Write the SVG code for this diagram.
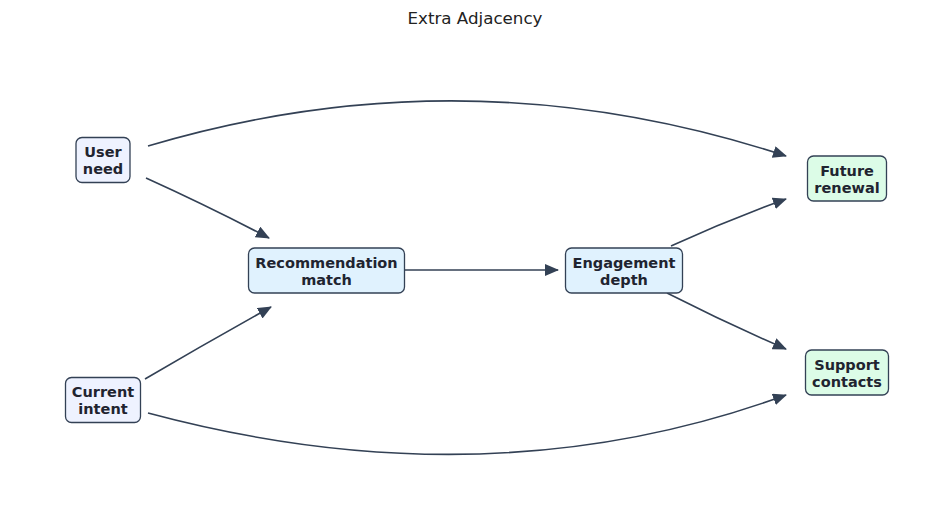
<svg xmlns="http://www.w3.org/2000/svg" width="950" height="521" viewBox="0 0 950 521">
<style>
.bg{fill:#ffffff}
.title{font-family:"DejaVu Sans",sans-serif;font-size:16.7px;fill:#222222;text-anchor:middle}
.box{stroke:#334155;stroke-width:1.3}
.src{fill:#eef2ff}
.mid{fill:#e0f2fe}
.out{fill:#dcfce7}
.lbl{font-family:"DejaVu Sans",sans-serif;font-size:14.5px;font-weight:bold;fill:#1f2430;text-anchor:middle}
.edge{fill:none;stroke:#334155;stroke-width:1.6}
</style>
<defs>
<marker id="ah" markerUnits="userSpaceOnUse" markerWidth="16" markerHeight="13" refX="13" refY="6" orient="auto">
<path d="M0,0 L14,6 L0,12 z" fill="#334155"/>
</marker>
</defs>
<rect class="bg" x="0" y="0" width="950" height="521"/>
<text class="title" x="475" y="24">Extra Adjacency</text>
<g id="connectors">
<path class="edge" marker-end="url(#ah)" d="M148,146 Q467,51 786,156"/>
<path class="edge" marker-end="url(#ah)" d="M146,178 Q210,207 269,238"/>
<path class="edge" marker-end="url(#ah)" d="M145,379 Q208,342 271,307"/>
<path class="edge" marker-end="url(#ah)" d="M148,413 Q488,504 786,395"/>
<path class="edge" marker-end="url(#ah)" d="M405,270 L558,270"/>
<path class="edge" marker-end="url(#ah)" d="M671,246 Q728,220 786,199"/>
<path class="edge" marker-end="url(#ah)" d="M667,293 Q726,323 786,349"/>
</g>
<g id="user-need">
<rect class="box src" x="76" y="137.5" width="54" height="45" rx="6"/>
<text class="lbl" x="103" y="157">User</text>
<text class="lbl" x="103" y="174">need</text>
</g>
<g id="current-intent">
<rect class="box src" x="65.5" y="377.5" width="75" height="45" rx="6"/>
<text class="lbl" x="103" y="397">Current</text>
<text class="lbl" x="103" y="414">intent</text>
</g>
<g id="recommendation-match">
<rect class="box mid" x="248.5" y="248" width="156" height="45" rx="6"/>
<text class="lbl" x="326.5" y="267.5">Recommendation</text>
<text class="lbl" x="326.5" y="284.5">match</text>
</g>
<g id="engagement-depth">
<rect class="box mid" x="565.5" y="248" width="117" height="45" rx="6"/>
<text class="lbl" x="624" y="267.5">Engagement</text>
<text class="lbl" x="624" y="284.5">depth</text>
</g>
<g id="future-renewal">
<rect class="box out" x="807.5" y="156" width="79" height="45" rx="6"/>
<text class="lbl" x="847" y="175.5">Future</text>
<text class="lbl" x="847" y="192.5">renewal</text>
</g>
<g id="support-contacts">
<rect class="box out" x="805.5" y="350" width="83" height="45" rx="6"/>
<text class="lbl" x="847" y="369.5">Support</text>
<text class="lbl" x="847" y="386.5">contacts</text>
</g>
</svg>
